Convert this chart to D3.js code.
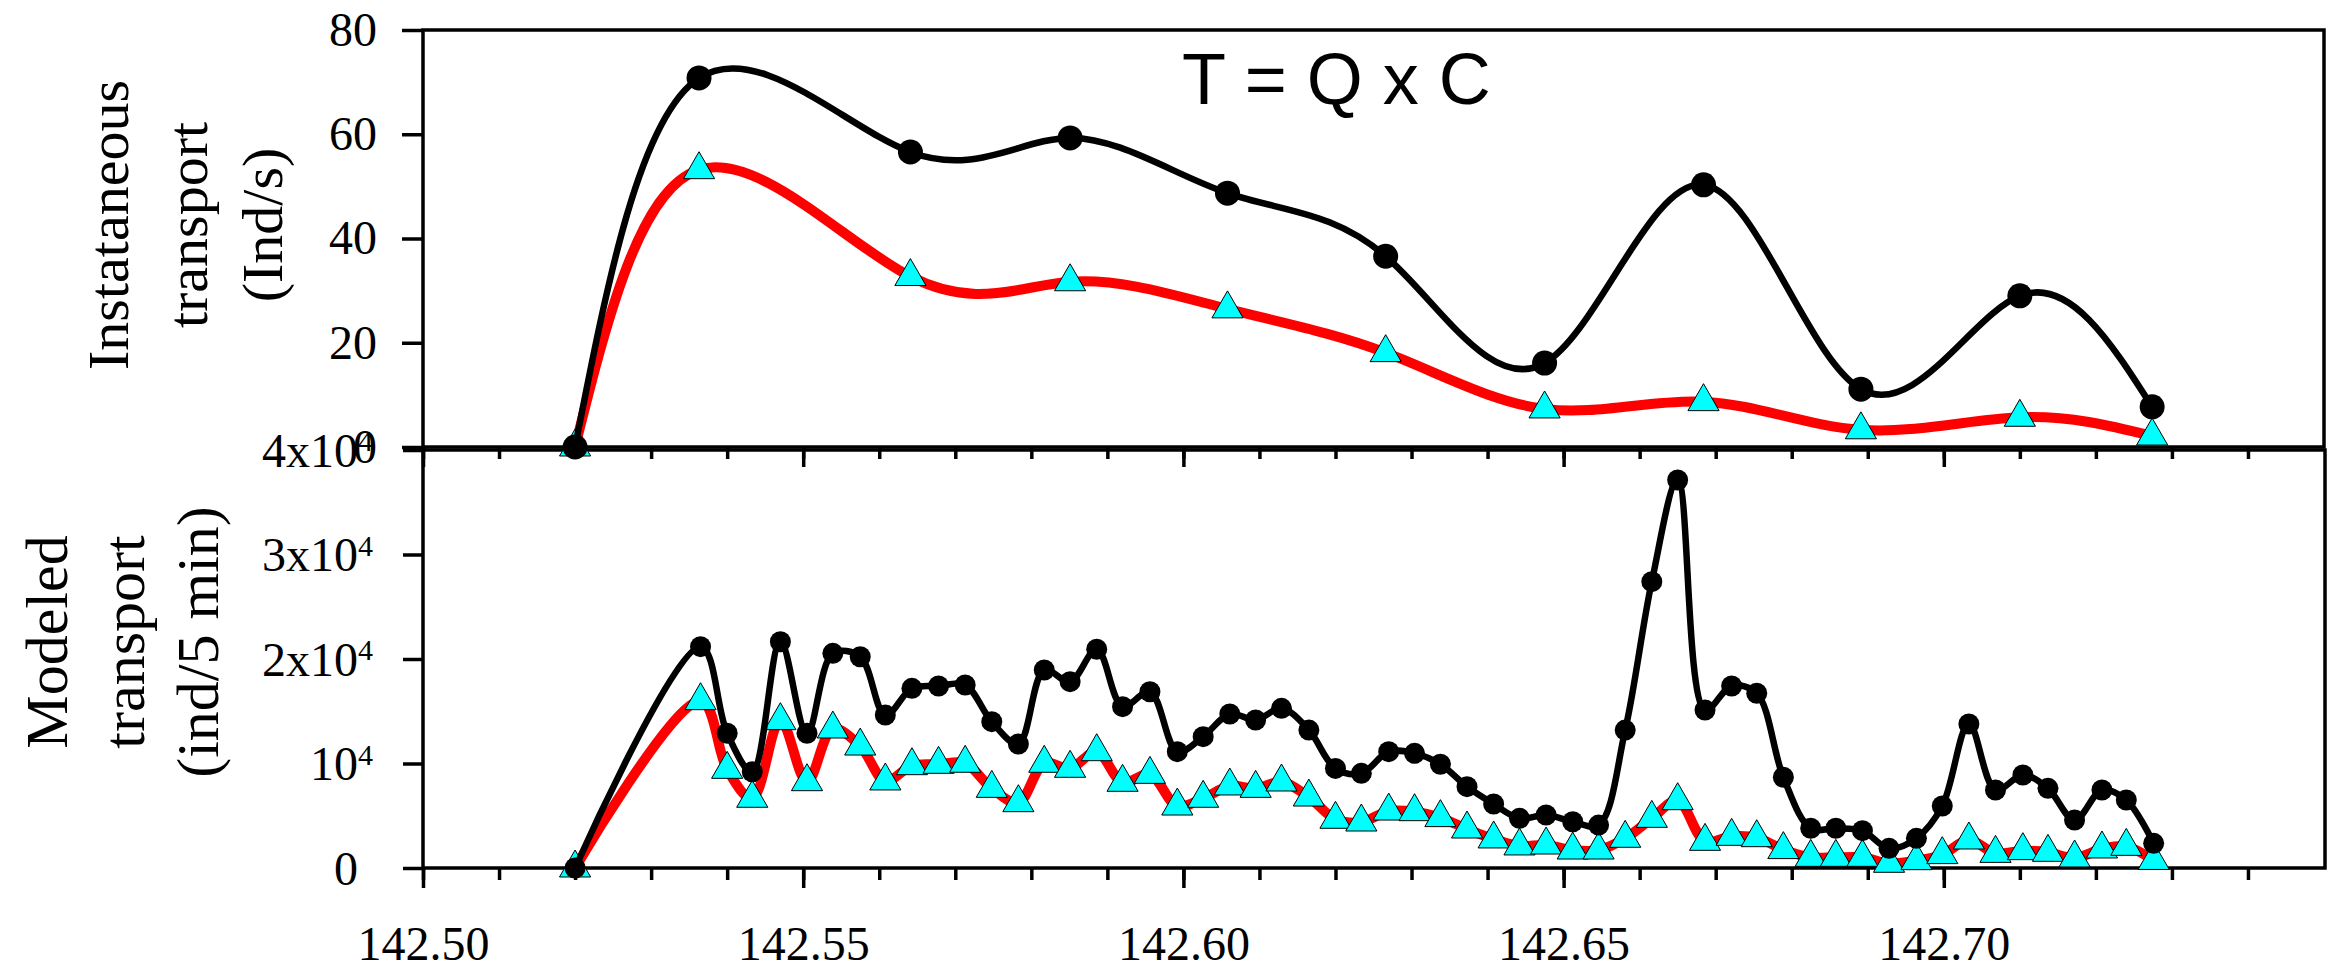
<!DOCTYPE html>
<html lang="en">
<head>
<meta charset="UTF-8">
<title>Transport T = Q x C</title>
<script src="https://cdn.jsdelivr.net/npm/d3@7/dist/d3.min.js"></script>
<style>
    body { margin: 0; background: #fff; }
    .axis path { display: none; }
    .axis line { stroke: #000; stroke-width: 3.5; }
    .axis text, .ylab {
        font-family: "Liberation Serif", "Times New Roman", serif;
        font-size: 48px;
        fill: #000;
    }
    .frame { fill: none; stroke: #000; stroke-width: 3.5; }
    .ytitle {
        font-family: "Liberation Serif", "Times New Roman", serif;
        fill: #000;
        text-anchor: middle;
    }
</style>
</head>
<body>
<script>
    // upper panel - instantaneous transport (Ind/s)
    var instX = [142.520, 142.5363, 142.5641, 142.5851, 142.6058, 142.6266, 142.6475, 142.6684, 142.6891, 142.710, 142.7274];
    var instCircles = [0, 70.8, 56.6, 59.3, 48.7, 36.6, 16.1, 50.3, 11.1, 29.0, 7.7];
    var instTriangles = [0, 53.2, 32.7, 31.7, 26.5, 18.1, 7.3, 8.7, 3.3, 5.7, 2.1];

    // lower panel - modeled transport (ind/5 min)
    var modX = [142.520, 142.5365, 142.540, 142.5433, 142.547, 142.5505, 142.5539, 142.5575, 142.5608, 142.5643,
        142.5678, 142.5713, 142.5748, 142.5783, 142.5817, 142.5851, 142.5886, 142.592, 142.5956, 142.5992,
        142.6026, 142.6061, 142.6095, 142.6129, 142.6165, 142.620, 142.6234, 142.627, 142.6304, 142.6338,
        142.6373, 142.6408, 142.6442, 142.6477, 142.6512, 142.6546, 142.6581, 142.6616, 142.665, 142.6686,
        142.6721, 142.6754, 142.6789, 142.6825, 142.6858, 142.6893, 142.6928, 142.6964, 142.6998, 142.7033,
        142.7068, 142.7104, 142.7137, 142.7172, 142.7208, 142.724, 142.7276];
    var modCircles = [0, 21180, 12890, 9215, 21650, 12890, 20540, 20220, 14640, 17190,
        17420, 17510, 14000, 11870, 18950, 17830, 20930, 15440, 16870, 11130,
        12570, 14740, 14160, 15280, 13200, 9530, 9060, 11130, 10970, 9930,
        7780, 6120, 4750, 5070, 4430, 4110, 13200, 27400, 37130, 15120,
        17420, 16720, 8680, 3800, 3800, 3570, 1880, 2840, 5930, 13780,
        7460, 8900, 7620, 4590, 7460, 6510, 2360];
    var modTriangles = [0, 16010, 9440, 6670, 14100, 8260, 13300, 11670, 8330, 9790,
        9920, 10020, 7620, 6250, 10020, 9540, 11130, 8200, 8960, 5930,
        6670, 7850, 7620, 8230, 6790, 4660, 4400, 5450, 5390, 4820,
        3730, 2780, 2110, 2200, 1720, 1720, 2840, 4750, 6440, 2550,
        3030, 2900, 1760, 1020, 1020, 1020, 450, 700, 1280, 2680,
        1400, 1660, 1500, 960, 1820, 2070, 720];

    // ticks and labels
    var instYTicks = [0, 20, 40, 60, 80];
    var modYTicks = [0, 10000, 20000, 30000, 40000];
    var modYLabelBase = ["0", "10", "2x10", "3x10", "4x10"];
    var modYLabelSup = ["", "4", "4", "4", "4"];
    var xMajorTicks = [142.50, 142.55, 142.60, 142.65, 142.70];
    var xTickLabels = ["142.50", "142.55", "142.60", "142.65", "142.70"];

    var width = 2331, height = 973;
    var svg = d3.select("body").append("svg")
        .attr("width", width)
        .attr("height", height);

    var x = d3.scaleLinear().domain([142.50, 142.75]).range([423, 2324]);
    var yTop = d3.scaleLinear().domain([0, 80]).range([447, 30]);
    var yBot = d3.scaleLinear().domain([0, 40000]).range([868, 450]);
    var xMinorTicks = d3.range(142.50, 142.745, 0.01);

    // frames
    svg.append("rect").attr("class", "frame")
        .attr("x", x(142.50)).attr("y", yTop(80))
        .attr("width", x(142.75) - x(142.50)).attr("height", yTop(0) - yTop(80));
    svg.append("rect").attr("class", "frame")
        .attr("x", x(142.50)).attr("y", yBot(40000))
        .attr("width", x(142.75) - x(142.50) + 1).attr("height", yBot(0) - yBot(40000));

    // x axes (ticks point down, outside)
    function xAxes(yPos, withLabels) {
        svg.append("g").attr("class", "axis")
            .attr("transform", "translate(0," + yPos + ")")
            .call(d3.axisBottom(x).tickValues(xMinorTicks).tickSize(12).tickSizeOuter(0).tickFormat(""));
        svg.append("g").attr("class", "axis")
            .attr("transform", "translate(0," + yPos + ")")
            .call(d3.axisBottom(x).tickValues(xMajorTicks).tickSize(20).tickSizeOuter(0).tickPadding(38)
                .tickFormat(function (d, i) { return withLabels ? xTickLabels[i] : ""; }));
    }
    xAxes(yTop(0), false);
    xAxes(yBot(0), true);

    // y axis upper
    svg.append("g").attr("class", "axis")
        .attr("transform", "translate(" + x(142.50) + ",0)")
        .call(d3.axisLeft(yTop).tickValues(instYTicks).tickSize(21).tickSizeOuter(0).tickPadding(25)
            .tickFormat(d3.format("d")));

    // y axis lower with superscript labels
    svg.append("g").attr("class", "axis")
        .attr("transform", "translate(" + x(142.50) + ",0)")
        .call(d3.axisLeft(yBot).tickValues(modYTicks).tickSize(20).tickSizeOuter(0).tickFormat(""));
    modYTicks.forEach(function (v, i) {
        svg.append("text").attr("class", "ylab")
            .attr("x", 358).attr("y", yBot(v)).attr("dy", "0.35em")
            .attr("text-anchor", "end")
            .text(modYLabelBase[i]);
        if (modYLabelSup[i]) {
            svg.append("text").attr("class", "ylab")
                .attr("x", 358).attr("y", yBot(v) + 1)
                .attr("text-anchor", "start")
                .style("font-size", "30px")
                .text(modYLabelSup[i]);
        }
    });

    // axis titles
    var topTitle = [["Instataneous", 128], ["transport", 207], ["(Ind/s)", 282]];
    topTitle.forEach(function (t) {
        svg.append("text").attr("class", "ytitle")
            .attr("transform", "translate(" + t[1] + ",225) rotate(-90)")
            .style("font-size", "58px")
            .text(t[0]);
    });
    var botTitle = [["Modeled", 67], ["transport", 144], ["(ind/5 min)", 218]];
    botTitle.forEach(function (t) {
        svg.append("text").attr("class", "ytitle")
            .attr("transform", "translate(" + t[1] + ",642) rotate(-90)")
            .style("font-size", "60px")
            .text(t[0]);
    });

    svg.append("text")
        .attr("x", 1182).attr("y", 104)
        .style("font-family", "'Liberation Sans', Arial, sans-serif")
        .style("font-size", "72px")
        .text("T = Q x C");

    // series
    function drawPanel(xs, tri, circ, yScale, r, curve) {
        var line = d3.line()
            .x(function (d) { return x(d[0]); })
            .y(function (d) { return yScale(d[1]); })
            .curve(curve);
        var triData = d3.zip(xs, tri);
        var circData = d3.zip(xs, circ);

        svg.append("path").datum(triData)
            .attr("d", line)
            .attr("fill", "none").attr("stroke", "#ff0000").attr("stroke-width", 10)
            .attr("stroke-linejoin", "round");
        svg.append("g").selectAll("path")
            .data(triData).enter().append("path")
            .attr("transform", function (d) { return "translate(" + x(d[0]) + "," + yScale(d[1]) + ")"; })
            .attr("d", d3.symbol(d3.symbolTriangle, 420))
            .attr("fill", "#00ffff").attr("stroke", "#000").attr("stroke-width", 1);

        svg.append("path").datum(circData)
            .attr("d", line)
            .attr("fill", "none").attr("stroke", "#000").attr("stroke-width", 6.5)
            .attr("stroke-linejoin", "round");
        svg.append("g").selectAll("circle")
            .data(circData).enter().append("circle")
            .attr("cx", function (d) { return x(d[0]); })
            .attr("cy", function (d) { return yScale(d[1]); })
            .attr("r", r)
            .attr("fill", "#000");
    }
    drawPanel(instX, instTriangles, instCircles, yTop, 12.5, d3.curveNatural);
    drawPanel(modX, modTriangles, modCircles, yBot, 10.5, d3.curveCatmullRom.alpha(0.5));
</script>
</body>
</html>
